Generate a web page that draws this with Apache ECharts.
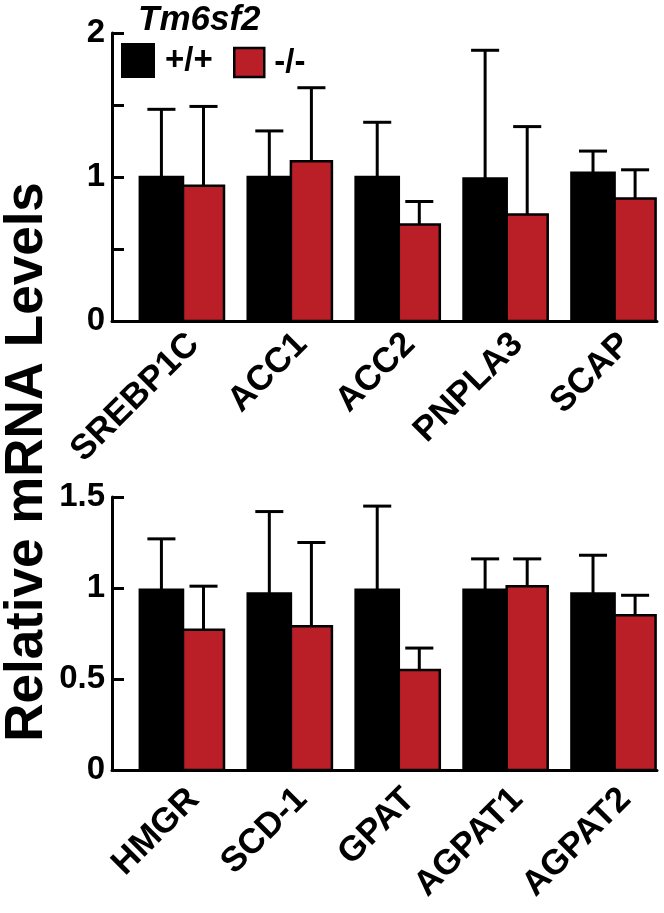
<!DOCTYPE html>
<html>
<head>
<meta charset="utf-8">
<script src="https://cdn.jsdelivr.net/npm/echarts@6/dist/echarts.min.js"></script>
<style>
html,body{margin:0;padding:0;background:#fff;}
#chart{width:664px;height:913px;}
</style>
</head>
<body>
<div id="chart"></div>
<script>
// ---- data ----
const topGenes = ['SREBP1C', 'ACC1', 'ACC2', 'PNPLA3', 'SCAP'];
const topWT = [1.00, 1.00, 1.00, 0.99, 1.03];
const topWTErr = [0.47, 0.32, 0.38, 0.89, 0.15];
const topKO = [0.94, 1.11, 0.67, 0.74, 0.85];
const topKOErr = [0.55, 0.51, 0.16, 0.61, 0.20];

const botGenes = ['HMGR', 'SCD-1', 'GPAT', 'AGPAT1', 'AGPAT2'];
const botWT = [0.99, 0.97, 0.99, 0.99, 0.97];
const botWTErr = [0.28, 0.45, 0.46, 0.17, 0.21];
const botKO = [0.77, 0.79, 0.55, 1.01, 0.85];
const botKOErr = [0.24, 0.46, 0.12, 0.15, 0.11];

const topTicks = [0, 0.5, 1, 1.5, 2];
const topTickLabels = [0, 1, 2];
const botTicks = [0, 0.5, 1, 1.5];

const genotypeNames = ['+/+', '-/-'];
const yTitle = 'Relative mRNA Levels';
const legendTitle = 'Tm6sf2';

// ---- styling ----
const FONT = "'Liberation Sans', Arial, Helvetica, sans-serif";
const BLACK = '#000000';
const RED = '#BA1F28';
const BAR_W = 0.4;      // bar width in category units
const CAP_HALF = 0.13;  // half cap width in category units
const LABEL_SHIFT = 0.1;

function rows(vals, errs) {
  return vals.map((v, i) => [i, v, errs[i]]);
}

function makeRender(side, fill) {
  return function (params, api) {
    const i = api.value(0), v = api.value(1), e = api.value(2);
    const x0 = side < 0 ? i - BAR_W : i;
    const x1 = side < 0 ? i : i + BAR_W * 0.95;
    const xc = (x0 + x1) / 2;
    const pTopL = api.coord([x0, v]);
    const pBotR = api.coord([x1, 0]);
    const pMid = api.coord([xc, v]);
    const pErr = api.coord([xc, v + e]);
    const pCapL = api.coord([xc - CAP_HALF, v + e]);
    const pCapR = api.coord([xc + CAP_HALF, v + e]);
    return {
      type: 'group',
      children: [
        { type: 'line', shape: { x1: pMid[0], y1: pMid[1], x2: pErr[0], y2: pErr[1] },
          style: { stroke: BLACK, lineWidth: 3 } },
        { type: 'line', shape: { x1: pCapL[0], y1: pCapL[1], x2: pCapR[0], y2: pCapR[1] },
          style: { stroke: BLACK, lineWidth: 3 } },
        { type: 'rect', shape: { x: pTopL[0], y: pTopL[1], width: pBotR[0] - pTopL[0], height: pBotR[1] - pTopL[1] },
          style: { fill: fill, stroke: BLACK, lineWidth: 2.5 } }
      ]
    };
  };
}

const XMIN = -0.658, XMAX = 4.393;

function xAxisDef(gridIndex, cats, margin) {
  return {
    type: 'value', gridIndex: gridIndex, min: XMIN, max: XMAX,
    axisLine: { show: true, lineStyle: { color: BLACK, width: 3 } },
    axisTick: { show: false },
    splitLine: { show: false },
    axisLabel: {
      customValues: cats.map((c, i) => i + LABEL_SHIFT),
      formatter: v => cats[Math.round(v)],
      rotate: 45, margin: margin,
      fontFamily: FONT, fontWeight: 'bold', fontSize: 35, color: BLACK
    }
  };
}

function yAxisDef(gridIndex, max, ticks, labels) {
  return {
    type: 'value', gridIndex: gridIndex, min: 0, max: max, interval: 0.5,
    axisLine: { show: true, onZero: false, lineStyle: { color: BLACK, width: 3 } },
    axisTick: { show: true, inside: true, length: 12, customValues: ticks, lineStyle: { color: BLACK, width: 3 } },
    splitLine: { show: false },
    axisLabel: {
      customValues: labels, margin: 7,
      fontFamily: FONT, fontWeight: 'bold', fontSize: 33, color: BLACK
    }
  };
}

const chart = echarts.init(document.getElementById('chart'), null, { renderer: 'canvas' });
chart.setOption({
  animation: false,
  backgroundColor: '#fff',
  title: {
    text: legendTitle, left: 138, top: 3, padding: 0,
    textStyle: { fontFamily: FONT, fontStyle: 'italic', fontWeight: 'bold', fontSize: 35, color: BLACK }
  },
  legend: [
    {
      left: 121, top: 43, padding: 0, itemWidth: 34, itemHeight: 35, icon: 'rect',
      textStyle: { fontFamily: FONT, fontWeight: 'bold', fontSize: 33, color: BLACK, padding: [0, 0, 0, 5] },
      data: [{ name: genotypeNames[0], itemStyle: { color: BLACK, borderColor: BLACK, borderWidth: 0 } }]
    },
    {
      left: 233, top: 46, padding: 0, itemWidth: 30, itemHeight: 29, icon: 'rect',
      textStyle: { fontFamily: FONT, fontWeight: 'bold', fontSize: 33, color: BLACK, padding: [0, 0, 0, 5] },
      data: [{ name: genotypeNames[1], itemStyle: { color: RED, borderColor: BLACK, borderWidth: 2.5 } }]
    }
  ],
  grid: [
    { left: 112, top: 33, width: 545, height: 288 },
    { left: 112, top: 497, width: 545, height: 273 }
  ],
  xAxis: [xAxisDef(0, topGenes, 18), xAxisDef(1, botGenes, 24)],
  yAxis: [yAxisDef(0, 2, topTicks, topTickLabels), yAxisDef(1, 1.5, botTicks, botTicks)],
  series: [
    { type: 'custom', name: genotypeNames[0], xAxisIndex: 0, yAxisIndex: 0, data: rows(topWT, topWTErr),
      renderItem: makeRender(-1, BLACK), itemStyle: { color: BLACK }, encode: { x: 0, y: 1 } },
    { type: 'custom', name: genotypeNames[1], xAxisIndex: 0, yAxisIndex: 0, data: rows(topKO, topKOErr),
      renderItem: makeRender(1, RED), itemStyle: { color: RED, borderColor: BLACK, borderWidth: 2.5 }, encode: { x: 0, y: 1 } },
    { type: 'custom', name: genotypeNames[0], xAxisIndex: 1, yAxisIndex: 1, data: rows(botWT, botWTErr),
      renderItem: makeRender(-1, BLACK), itemStyle: { color: BLACK }, encode: { x: 0, y: 1 } },
    { type: 'custom', name: genotypeNames[1], xAxisIndex: 1, yAxisIndex: 1, data: rows(botKO, botKOErr),
      renderItem: makeRender(1, RED), itemStyle: { color: RED, borderColor: BLACK, borderWidth: 2.5 }, encode: { x: 0, y: 1 } }
  ],
  graphic: [
    { type: 'text', x: 27, y: 462, rotation: Math.PI / 2,
      style: { text: yTitle, fontFamily: FONT, fontWeight: 'bold', fontSize: 53, fill: BLACK,
               textAlign: 'center', textVerticalAlign: 'middle' } }
  ]
});
</script>
</body>
</html>
